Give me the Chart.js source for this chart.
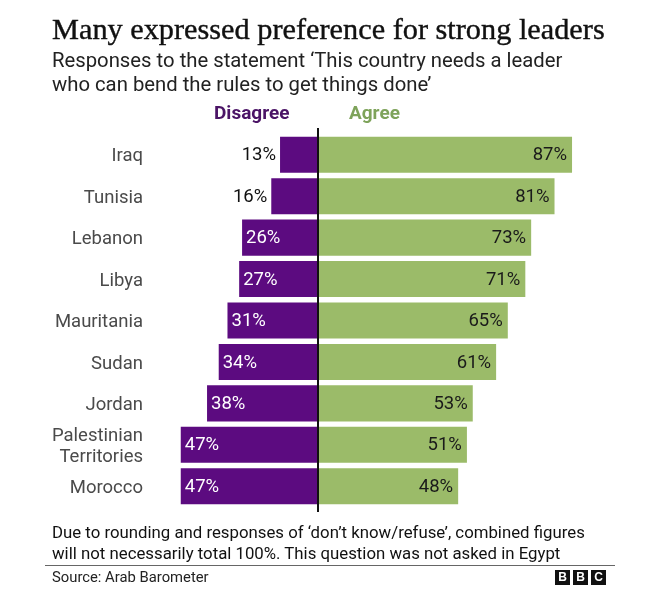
<!DOCTYPE html>
<html>
<head>
<meta charset="utf-8">
<title>Strong leaders</title>
<script src="https://cdn.jsdelivr.net/npm/chart.js"></script>
<style>
  body { margin:0; background:#fff; font-family:Roboto, "Noto Sans", sans-serif; }
  #wrap { position:relative; width:658px; height:589px; overflow:hidden; }
  #chart { position:absolute; left:0; top:0; }
  .t { position:absolute; white-space:nowrap; color:#111; }
  #title { left:52px; top:12px; font-family:"Liberation Serif", serif; font-size:30.3px; -webkit-text-stroke:0.4px #111; }
  #sub { left:52px; top:49px; font-size:20.3px; line-height:23.5px; color:#222; }
  #dis { left:214px; top:101px; font-size:19px; font-weight:bold; color:#4b1466; }
  #agr { left:349px; top:101px; font-size:19px; font-weight:bold; color:#7ea35a; }
  #note { left:52px; top:522px; font-size:16.8px; line-height:20.5px; color:#111; }
  #rule { position:absolute; left:45px; top:565px; width:570px; height:1px; background:#666; }
  #src { left:52px; top:568px; font-size:14.8px; color:#222; }
  .logo { position:absolute; top:570px; width:15px; height:15px; background:#111; color:#fff; font:bold 12px "Liberation Sans", sans-serif; text-align:center; line-height:15px; }
</style>
</head>
<body>
<div id="wrap">
  <canvas id="chart" width="658" height="589"></canvas>
  <div class="t" id="title">Many expressed preference for strong leaders</div>
  <div class="t" id="sub">Responses to the statement ‘This country needs a leader<br>who can bend the rules to get things done’</div>
  <div class="t" id="dis">Disagree</div>
  <div class="t" id="agr">Agree</div>
  <div class="t" id="note">Due to rounding and responses of ‘don’t know/refuse’, combined figures<br>will not necessarily total 100%. This question was not asked in Egypt</div>
  <div id="rule"></div>
  <div class="t" id="src">Source: Arab Barometer</div>
  <div class="logo" style="left:555px">B</div>
  <div class="logo" style="left:573px">B</div>
  <div class="logo" style="left:591px">C</div>
</div>
<script>
const countries = ['Iraq', 'Tunisia', 'Lebanon', 'Libya', 'Mauritania', 'Sudan', 'Jordan', ['Palestinian', 'Territories'], 'Morocco'];
const disagree = [13, 16, 26, 27, 31, 34, 38, 47, 47];
const agree = [87, 81, 73, 71, 65, 61, 53, 51, 48];

const purple = '#5c0b80';
const green = '#9bbb69';

// center line + value labels
const extras = {
  id: 'extras',
  afterDatasetsDraw(chart) {
    const ctx = chart.ctx;
    const x = chart.scales.x, y = chart.scales.y;
    const x0 = x.getPixelForValue(0);
    ctx.save();
    ctx.strokeStyle = '#111';
    ctx.lineWidth = 2;
    ctx.beginPath();
    ctx.moveTo(x0, chart.chartArea.top - 6);
    ctx.lineTo(x0, chart.chartArea.bottom + 5);
    ctx.stroke();

    ctx.font = '18.5px Roboto, "Noto Sans", sans-serif';
    ctx.textBaseline = 'middle';
    disagree.forEach((v, i) => {
      const yy = y.getPixelForValue(i) + 1;
      const left = x.getPixelForValue(-v);
      if (v >= 20) {
        ctx.fillStyle = '#fff';
        ctx.textAlign = 'left';
        ctx.fillText(v + '%', left + 4, yy);
      } else {
        ctx.fillStyle = '#111';
        ctx.textAlign = 'right';
        ctx.fillText(v + '%', left - 4, yy);
      }
    });
    agree.forEach((v, i) => {
      const yy = y.getPixelForValue(i) + 1;
      ctx.fillStyle = '#1a1a1a';
      ctx.textAlign = 'right';
      ctx.fillText(v + '%', x.getPixelForValue(v) - 5, yy);
    });
    ctx.restore();
  }
};

new Chart(document.getElementById('chart'), {
  type: 'bar',
  data: {
    labels: countries,
    datasets: [
      { label: 'Disagree', data: disagree.map(v => -v), backgroundColor: purple, barPercentage: 0.87, categoryPercentage: 1 },
      { label: 'Agree', data: agree, backgroundColor: green, barPercentage: 0.87, categoryPercentage: 1 }
    ]
  },
  options: {
    indexAxis: 'y',
    responsive: false,
    animation: false,
    devicePixelRatio: 1,
    layout: { padding: { top: 134, bottom: 82, right: 48, left: 0 } },
    plugins: { legend: { display: false }, tooltip: { enabled: false } },
    scales: {
      x: { stacked: true, min: -50, max: 100, display: false },
      y: {
        stacked: true,
        grid: { display: false, drawTicks: false },
        border: { display: false },
        afterFit: s => { s.width = 172; },
        ticks: { autoSkip: false, labelOffset: 2, color: '#4a4a4a', padding: 29, font: { size: 18.5, family: 'Roboto, "Noto Sans", sans-serif', lineHeight: 1.15 } }
      }
    }
  },
  plugins: [extras]
});
</script>
</body>
</html>
